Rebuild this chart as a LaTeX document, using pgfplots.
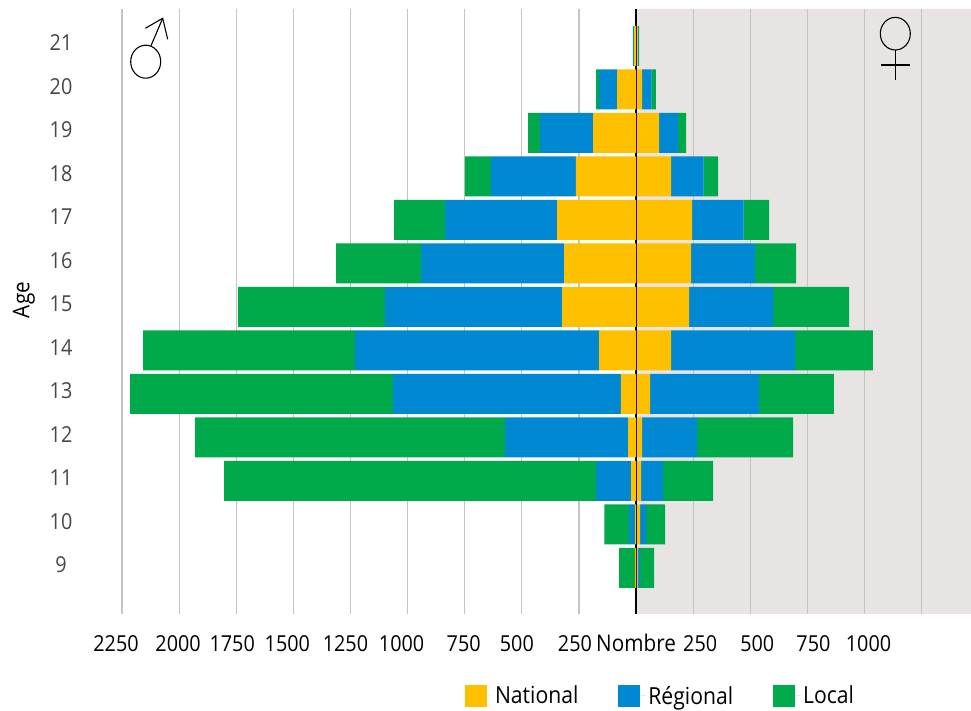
\documentclass[border=0pt]{standalone}
\usepackage{pgfplots}
\pgfplotsset{compat=1.18}
\usepackage{fontspec}
\setmainfont[FakeStretch=0.9]{Open Sans}
\definecolor{nat}{HTML}{FFC000}
\definecolor{reg}{HTML}{0088D2}
\definecolor{loc}{HTML}{00A94A}
\definecolor{bgf}{HTML}{E9E4E4}
\definecolor{gridc}{HTML}{C4C4C4}
\newcommand{\lab}[2]{\makebox[0pt][l]{\hspace*{#1pt}\makebox[0pt][c]{#2}}}
\begin{document}
\begin{tikzpicture}[x=1pt,y=1pt]
\useasboundingbox (0,0) rectangle (971,711);
% background of the women's side
\begin{axis}[
  at={(0pt,97pt)}, anchor=south west,
  scale only axis, width=971pt, height=605pt,
  xmin=-2784, xmax=1466, ymin=7.94, ymax=21.85,
  hide axis,
]
\addplot[fill=bgf, draw=none] coordinates {(0,7.94)(1466,7.94)(1466,21.85)(0,21.85)} \closedcycle;
\end{axis}
% grid, labels, legend, women
\begin{axis}[
  at={(0pt,97pt)}, anchor=south west,
  scale only axis, width=971pt, height=605pt,
  xmin=-2784, xmax=1466, ymin=7.94, ymax=21.85,
  xbar stacked, bar width=40pt, bar shift=0pt,
  axis line style={draw=none}, tick style={draw=none},
  xtick={-2250,-2000,-1750,-1500,-1250,-1000,-750,-500,-250,0,250,500,750,1000},
  xticklabels={\lab{-6}{2250},\lab{-1}{2000},\lab{-4}{1750},\lab{-6}{1500},\lab{-5}{1250},\lab{-6}{1000},\lab{-1}{750},\lab{-5}{500},\lab{-4}{250},\lab{0}{\fontsize{23}{26}\selectfont Nombre},\lab{7}{250},\lab{7}{500},\lab{6}{750},\lab{4}{1000}},
  extra x ticks={1250}, extra x tick labels={},
  xmajorgrids, grid style={gridc, line width=1.1pt},
  ytick={9,10,...,21},
  yticklabel style={anchor=center, xshift=61pt, yshift=3pt, text=black!72},
  xticklabel style={yshift=-18pt, text height=16pt, text depth=0pt},
  tick label style={font=\fontsize{22}{26}\selectfont},
  /pgf/number format/assume math mode=true,
  legend style={at={(465pt,-70pt)}, anchor=north west, draw=none, fill=none,
    legend columns=3, inner sep=0pt, outer sep=0pt,
    font=\fontsize{23.5}{26}\selectfont,
    /tikz/every even column/.append style={column sep=38pt}},
  legend cell align=left,
  legend image code/.code={\fill[#1] (0pt,-11pt) rectangle (22pt,11pt); \path (0pt,0pt) -- (28pt,0pt);},
]
\addplot[fill=nat,draw=none] coordinates {(9,9)(18,10)(22,11)(26,12)(61,13)(153,14)(232,15)(241,16)(245,17)(153,18)(101,19)(26,20)(8,21)};
\addplot[fill=reg,draw=none] coordinates {(9,9)(26,10)(96,11)(241,12)(477,13)(543,14)(368,15)(280,16)(226,17)(143,18)(83,19)(42,20)(1,21)};
\addplot[fill=loc,draw=none] coordinates {(61,9)(83,10)(219,11)(420,12)(328,13)(341,14)(333,15)(179,16)(111,17)(63,18)(35,19)(19,20)(4,21)};
\legend{National,Régional,Local}
\end{axis}
% men
\begin{axis}[
  at={(0pt,97pt)}, anchor=south west,
  scale only axis, width=971pt, height=605pt,
  xmin=-2784, xmax=1466, ymin=7.94, ymax=21.85,
  xbar stacked, bar width=40pt, bar shift=0pt,
  hide axis,
]
\addplot[fill=nat,draw=none] coordinates {(-4,9)(-4,10)(-22,11)(-35,12)(-66,13)(-162,14)(-324,15)(-315,16)(-346,17)(-263,18)(-188,19)(-83,20)(-9,21)};
\addplot[fill=reg,draw=none] coordinates {(0,9)(-26,10)(-153,11)(-538,12)(-998,13)(-1068,14)(-775,15)(-626,16)(-490,17)(-372,18)(-232,19)(-79,20)(-4,21)};
\addplot[fill=loc,draw=none] coordinates {(-70,9)(-109,10)(-1628,11)(-1357,12)(-1151,13)(-928,14)(-643,15)(-372,16)(-223,17)(-114,18)(-53,19)(-13,20)(-1,21)};
\draw[black, line width=1.6pt] (axis cs:0,7.94) -- (axis cs:0,21.85);
\end{axis}
\node[rotate=90, font=\fontsize{23}{26}\selectfont] at (24,411) {Age};
% male symbol
\draw[black, line width=1.1pt] (145.7,649.3) ellipse [x radius=15, y radius=16.5];
\draw[black, line width=1.1pt] (151,665.3) -- (162.7,692.7);
\draw[black, line width=1.1pt] (145.3,682.7) -- (162.7,692.7) -- (167.7,671.7);
% female symbol
\draw[black, line width=1.1pt] (895.3,677.3) ellipse [x radius=15, y radius=16.3];
\draw[black, line width=1.3pt] (895.3,661) -- (895.3,631);
\draw[black, line width=1.3pt] (881,646) -- (909.7,646);
\end{tikzpicture}
\end{document}
